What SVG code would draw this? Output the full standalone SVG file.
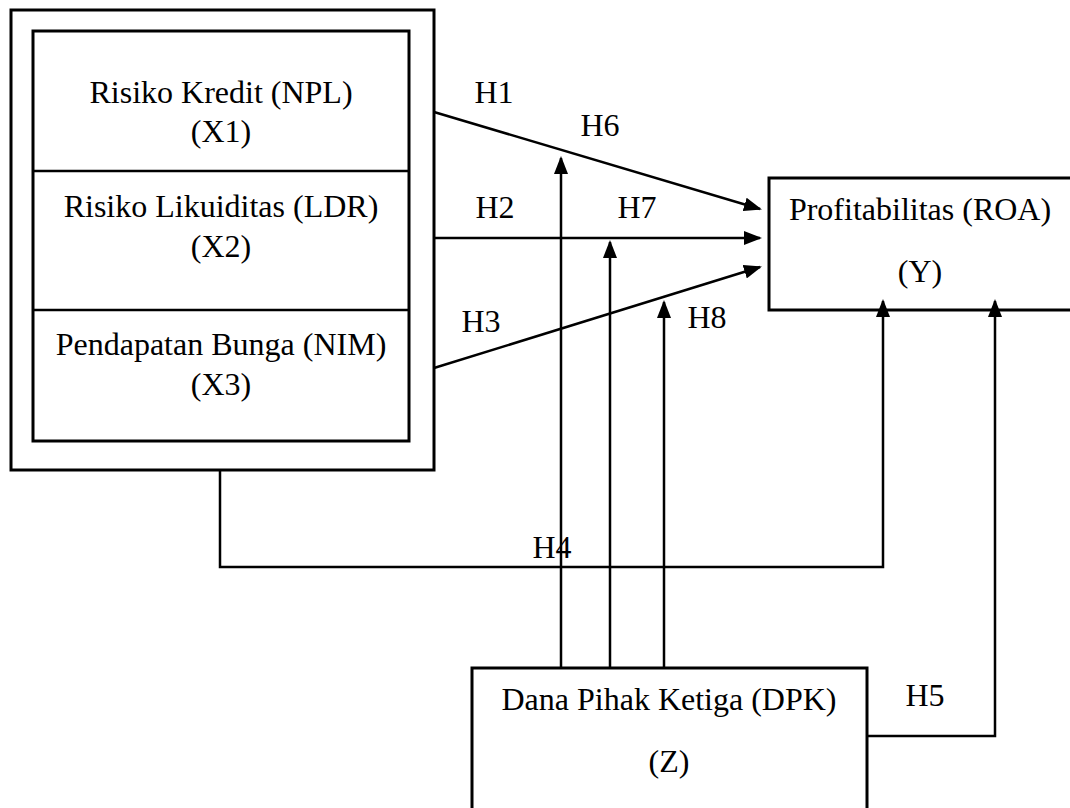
<svg xmlns="http://www.w3.org/2000/svg" width="1070" height="808" viewBox="0 0 1070 808">
<defs>
<style>
.box{fill:#fff;stroke:#000;stroke-width:3}
.ln{fill:none;stroke:#000;stroke-width:2.5}
.t{font-family:"Liberation Serif","Times New Roman",serif;font-size:32px;fill:#000;text-anchor:middle}
</style>
<marker id="ah" markerUnits="userSpaceOnUse" markerWidth="18" markerHeight="14" refX="16" refY="7" orient="auto" viewBox="0 0 18 14">
<path d="M0,0 L18,7 L0,14 Z" fill="#000"/>
</marker>
</defs>
<rect width="1070" height="808" fill="#fff"/>
<g id="X">
<rect class="box" x="11" y="10" width="423" height="460"/>
<rect class="box" x="33" y="31" width="376" height="410"/>
<line class="ln" x1="33" y1="171" x2="409" y2="171"/>
<line class="ln" x1="33" y1="310" x2="409" y2="310"/>
<text class="t" x="221" y="103">Risiko Kredit (NPL)</text>
<text class="t" x="221" y="142">(X1)</text>
<text class="t" x="221" y="217">Risiko Likuiditas (LDR)</text>
<text class="t" x="221" y="257">(X2)</text>
<text class="t" x="221" y="355">Pendapatan Bunga (NIM)</text>
<text class="t" x="221" y="395">(X3)</text>
</g>
<g id="Y">
<rect class="box" x="769" y="178" width="310" height="132"/>
<text class="t" x="920" y="220">Profitabilitas (ROA)</text>
<text class="t" x="920" y="282">(Y)</text>
</g>
<g id="Z">
<rect class="box" x="472" y="668" width="395" height="150"/>
<text class="t" x="669" y="710">Dana Pihak Ketiga (DPK)</text>
<text class="t" x="669" y="772">(Z)</text>
</g>
<g id="connectors">
<line class="ln" x1="434" y1="112" x2="760" y2="209" marker-end="url(#ah)"/>
<line class="ln" x1="434" y1="238" x2="760" y2="238" marker-end="url(#ah)"/>
<line class="ln" x1="434" y1="368" x2="760" y2="267" marker-end="url(#ah)"/>
<line class="ln" x1="561" y1="668" x2="561" y2="158" marker-end="url(#ah)"/>
<line class="ln" x1="610" y1="668" x2="610" y2="242" marker-end="url(#ah)"/>
<line class="ln" x1="664" y1="668" x2="664" y2="302" marker-end="url(#ah)"/>
<polyline class="ln" points="220,470 220,567 883,567 883,301" marker-end="url(#ah)"/>
<polyline class="ln" points="867,736 995,736 995,301" marker-end="url(#ah)"/>
</g>
<g id="labels">
<text class="t" x="494" y="103">H1</text>
<text class="t" x="600" y="136">H6</text>
<text class="t" x="495" y="218">H2</text>
<text class="t" x="637" y="218">H7</text>
<text class="t" x="481" y="332">H3</text>
<text class="t" x="707" y="328">H8</text>
<text class="t" x="552" y="558">H4</text>
<text class="t" x="925" y="706">H5</text>
</g>
</svg>
